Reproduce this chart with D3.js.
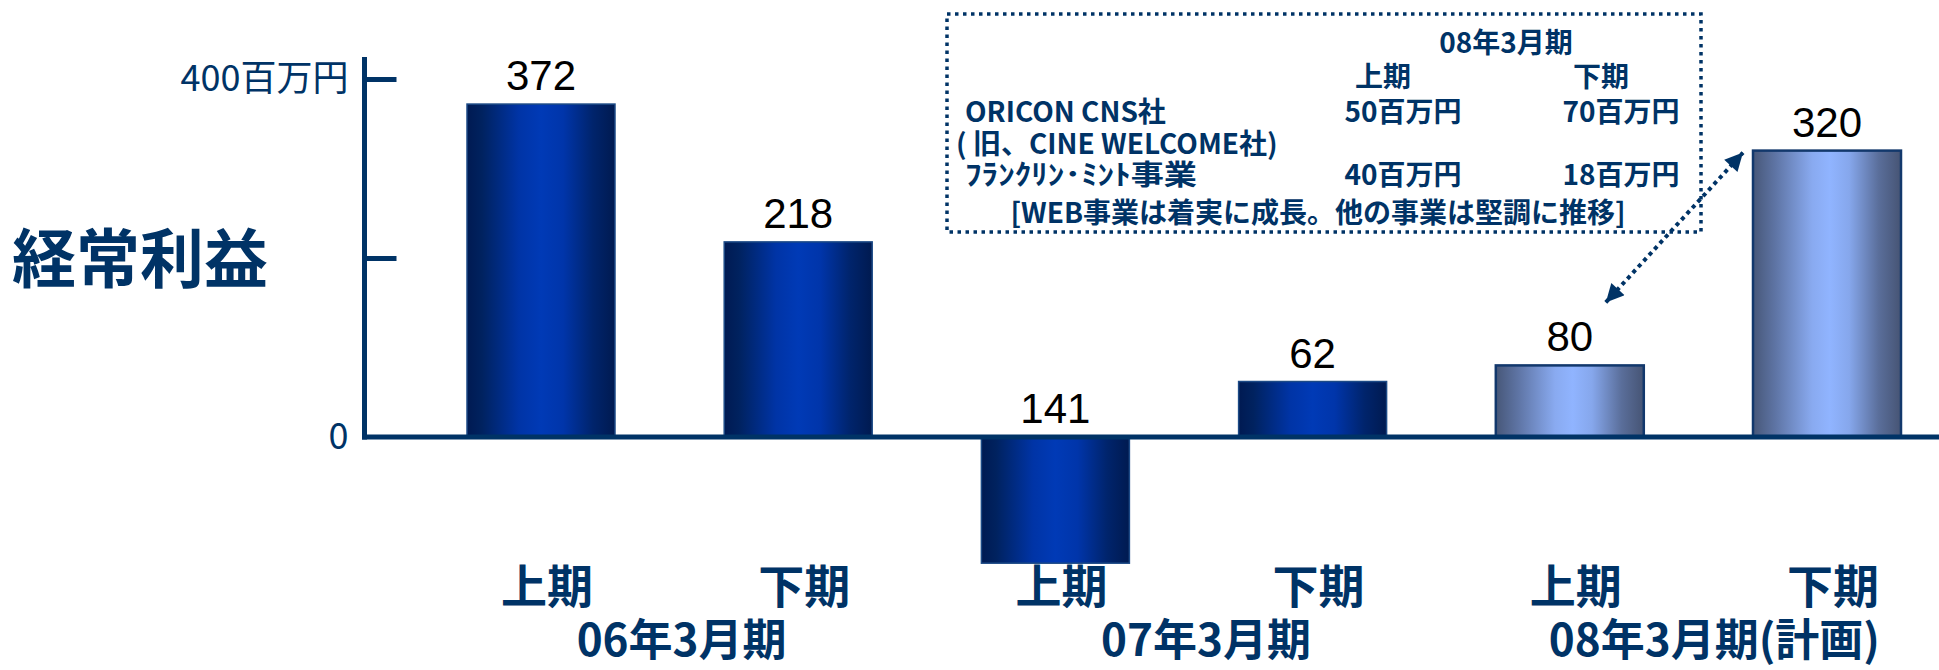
<!DOCTYPE html>
<html>
<head>
<meta charset="utf-8">
<script src="https://cdn.jsdelivr.net/npm/d3@7"></script>
<style>
  html, body { margin: 0; padding: 0; background: #ffffff; }
  svg { display: block; }
</style>
</head>
<body>
<svg id="chart" width="1939" height="670"></svg>
<script>
// ---------------- data ----------------
const periodIds   = ["06上", "06下", "07上", "07下", "08上", "08下"];
const halfLabels  = ["上期", "下期", "上期", "下期", "上期", "下期"];
const profits     = [372, 218, -141, 62, 80, 320];           // 百万円
const planned     = [false, false, false, false, true, true];
const fiscalYears = ["06年3月期", "07年3月期", "08年3月期(計画)"];
const yTicks      = [0, 200, 400];
const yTickLabels = ["0", "", "400百万円"];
const chartTitle  = "経常利益";

// annotation box data (08年3月期 breakdown)
const boxHeader    = "08年3月期";
const boxHalves    = ["上期", "下期"];
const boxSegments  = ["ORICON CNS社", "ﾌﾗﾝｸﾘﾝ･ﾐﾝﾄ事業"];
const boxSegNote   = "( 旧、CINE WELCOME社)";
const boxFirstHalf = [50, 40];
const boxSecondHalf= [70, 18];
const boxComment   = "[WEB事業は着実に成長。他の事業は堅調に推移]";

// ---------------- layout ----------------
const NAVY = "#003366";
const CJK = "'Noto Sans CJK JP', 'Noto Sans CJK SC', sans-serif";
const svg = d3.select("#chart");

const x = d3.scaleBand()
  .domain(periodIds)
  .range([412.4, 1955.6])
  .paddingInner(0.4246)
  .paddingOuter(0.2123);

const y = d3.scaleLinear().domain([0, 400]).range([437, 79]);

// gradients
const defs = svg.append("defs");
function hGrad(id, stops) {
  const g = defs.append("linearGradient").attr("id", id)
    .attr("x1", "0%").attr("x2", "100%").attr("y1", "0%").attr("y2", "0%");
  stops.forEach(s => g.append("stop").attr("offset", s[0]).attr("stop-color", s[1]));
}
hGrad("gradDark", [["0%", "#001a52"], ["10%", "#00225f"], ["35%", "#0034a6"], ["50%", "#003ab6"], ["65%", "#0035aa"], ["85%", "#00246c"], ["100%", "#001a50"]]);
hGrad("gradLight", [["0%", "#475778"], ["15%", "#5e74a4"], ["40%", "#89aaf0"], ["52%", "#90b4ff"], ["65%", "#86a7ec"], ["85%", "#5a6e9a"], ["100%", "#465474"]]);

// arrow marker
defs.append("marker").attr("id", "arrowHead")
  .attr("viewBox", "0 0 10 10").attr("refX", 10).attr("refY", 5)
  .attr("markerUnits", "userSpaceOnUse")
  .attr("markerWidth", 22).attr("markerHeight", 18)
  .attr("orient", "auto-start-reverse")
  .append("path").attr("d", "M0,0 L10,5 L0,10 Z").attr("fill", NAVY);

// title
svg.append("text")
  .attr("x", 12).attr("y", 254)
  .attr("dominant-baseline", "central")
  .attr("font-family", CJK).attr("font-weight", 700)
  .attr("font-size", 64).attr("fill", NAVY)
  .text(chartTitle);

// bars
const barData = periodIds.map((id, i) => ({ id, v: profits[i], plan: planned[i], half: halfLabels[i] }));

svg.append("g").selectAll("rect").data(barData).join("rect")
  .attr("x", d => x(d.id))
  .attr("width", x.bandwidth())
  .attr("y", d => y(Math.max(0, d.v)))
  .attr("height", d => Math.abs(y(d.v) - y(0)))
  .attr("fill", d => d.plan ? "url(#gradLight)" : "url(#gradDark)")
  .attr("stroke", d => d.plan ? "#12386c" : "#1c4a86")
  .attr("stroke-width", d => d.plan ? 2.5 : 1.5);

// y axis (ticks point inward to the right, labels to the left)
const yAxis = d3.axisLeft(y)
  .tickValues(yTicks)
  .tickFormat((d, i) => yTickLabels[i])
  .tickSizeInner(-32)
  .tickSizeOuter(0)
  .tickPadding(16);

const axisG = svg.append("g")
  .attr("transform", "translate(364.5,0)")
  .call(yAxis);
axisG.select(".domain").remove();
axisG.selectAll(".tick line")
  .attr("stroke", NAVY).attr("stroke-width", 5)
  .filter(d => d === 0).remove();
axisG.selectAll(".tick text")
  .attr("font-family", CJK).attr("font-size", 36)
  .attr("fill", NAVY).attr("dy", "0.32em");

// vertical axis line
svg.append("line")
  .attr("x1", 364.5).attr("x2", 364.5)
  .attr("y1", y.range()[1] - 22).attr("y2", y(0) + 2.5)
  .attr("stroke", NAVY).attr("stroke-width", 5);

// zero line
svg.append("line")
  .attr("x1", 362).attr("x2", 1939)
  .attr("y1", y(0)).attr("y2", y(0))
  .attr("stroke", NAVY).attr("stroke-width", 5);

// value labels
svg.append("g").selectAll("text").data(barData).join("text")
  .attr("x", d => x(d.id) + x.bandwidth() / 2)
  .attr("y", d => y(Math.max(0, d.v)) - 14)
  .attr("text-anchor", "middle")
  .attr("font-family", "'Liberation Sans', Arial, sans-serif")
  .attr("font-size", 42).attr("fill", "#000")
  .text(d => Math.abs(d.v));

// half-period labels
svg.append("g").selectAll("text").data(barData).join("text")
  .attr("x", d => x(d.id) + x.bandwidth() / 2 + 6)
  .attr("y", 583)
  .attr("dominant-baseline", "central")
  .attr("text-anchor", "middle")
  .attr("font-family", CJK).attr("font-weight", 700)
  .attr("font-size", 46).attr("fill", NAVY)
  .text(d => d.half);

// fiscal-year labels
const fyShift = [12, 22, 16];
svg.append("g").selectAll("text").data(fiscalYears).join("text")
  .attr("x", (d, i) => (x(periodIds[2 * i]) + x(periodIds[2 * i + 1]) + x.bandwidth()) / 2 + fyShift[i])
  .attr("y", 637)
  .attr("dominant-baseline", "central")
  .attr("text-anchor", "middle")
  .attr("font-family", CJK).attr("font-weight", 700)
  .attr("font-size", 44).attr("fill", NAVY)
  .text(d => d);

// annotation box
const box = svg.append("g");
box.append("rect")
  .attr("x", 947).attr("y", 14).attr("width", 754).attr("height", 218)
  .attr("fill", "none").attr("stroke", NAVY)
  .attr("stroke-width", 3.5).attr("stroke-dasharray", "3.5 4.5");

function boxText(t, xx, yy, anchor) {
  return box.append("text")
    .attr("x", xx).attr("y", yy)
    .attr("dominant-baseline", "central")
    .attr("text-anchor", anchor)
    .attr("font-family", CJK).attr("font-weight", 700)
    .attr("font-size", 28).attr("fill", NAVY)
    .text(t);
}
const colX = [1403, 1621];
const rowY = [110, 173];
boxText(boxHeader, 1506, 41, "middle");
boxHalves.forEach((h, i) => boxText(h, colX[i] - 20, 75, "middle"));
boxSegments.forEach((s, i) => {
  const t = boxText(s, 965, rowY[i], "start");
  if (i === 1) t.attr("textLength", 232).attr("lengthAdjust", "spacingAndGlyphs");
});
boxText(boxSegNote, 956, 142, "start");
boxFirstHalf.forEach((v, i) => boxText(v + "百万円", colX[0], rowY[i], "middle"));
boxSecondHalf.forEach((v, i) => boxText(v + "百万円", colX[1], rowY[i], "middle"));
boxText(boxComment, 1318, 211, "middle");

// dotted double arrow linking the box to the 08 bars
const lowTip  = [x("08上") + x.bandwidth() / 2 + 36, y(80) - 63];
const highTip = [x("08下") - 10, y(320) + 2];
svg.append("line")
  .attr("x1", lowTip[0]).attr("y1", lowTip[1])
  .attr("x2", highTip[0]).attr("y2", highTip[1])
  .attr("stroke", NAVY).attr("stroke-width", 4)
  .attr("stroke-dasharray", "4 4")
  .attr("marker-start", "url(#arrowHead)")
  .attr("marker-end", "url(#arrowHead)");
</script>
</body>
</html>
